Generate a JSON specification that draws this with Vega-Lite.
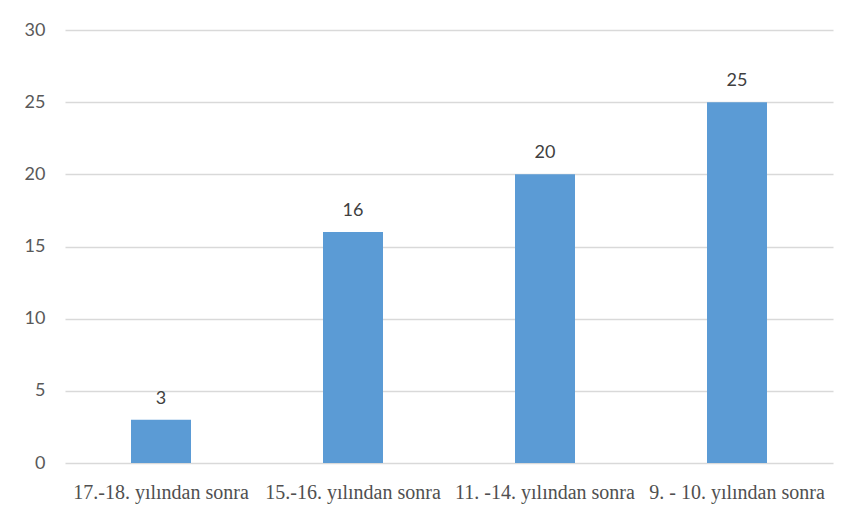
{
  "$schema": "https://vega.github.io/schema/vega-lite/v6.json",
  "width": 768,
  "height": 433,
  "autosize": {"type": "none"},
  "padding": {"left": 65, "top": 30, "right": 13, "bottom": 52},
  "background": "white",
  "data": {
    "values": [
      {"kategori": "17.-18. yılından sonra", "deger": 3},
      {"kategori": "15.-16. yılından sonra", "deger": 16},
      {"kategori": "11. -14. yılından sonra", "deger": 20},
      {"kategori": "9. - 10. yılından sonra", "deger": 25}
    ]
  },
  "encoding": {
    "x": {
      "field": "kategori",
      "type": "nominal",
      "sort": null,
      "scale": {"paddingInner": 0.6875, "paddingOuter": 0.34375},
      "axis": {
        "title": null,
        "labelAngle": 0,
        "labelFont": "Liberation Serif",
        "labelFontSize": 20,
        "labelColor": "#505050",
        "labelPadding": 19,
        "labelOverlap": false,
        "ticks": false,
        "domain": false
      }
    },
    "y": {
      "field": "deger",
      "type": "quantitative",
      "scale": {"domain": [0, 30]},
      "axis": {
        "title": null,
        "values": [0, 5, 10, 15, 20, 25, 30],
        "labelFont": "Lato",
        "labelFontSize": 18,
        "labelColor": "#595959",
        "labelPadding": 20,
        "ticks": false,
        "domain": false,
        "grid": true,
        "gridColor": "#d9d9d9",
        "gridWidth": 1.5
      }
    }
  },
  "layer": [
    {"mark": {"type": "bar", "color": "#5B9BD5"}},
    {
      "mark": {"type": "text", "baseline": "alphabetic", "dy": -16, "font": "Lato", "fontSize": 18, "color": "#404040"},
      "encoding": {"text": {"field": "deger", "type": "quantitative"}}
    }
  ],
  "config": {"view": {"stroke": null}}
}
